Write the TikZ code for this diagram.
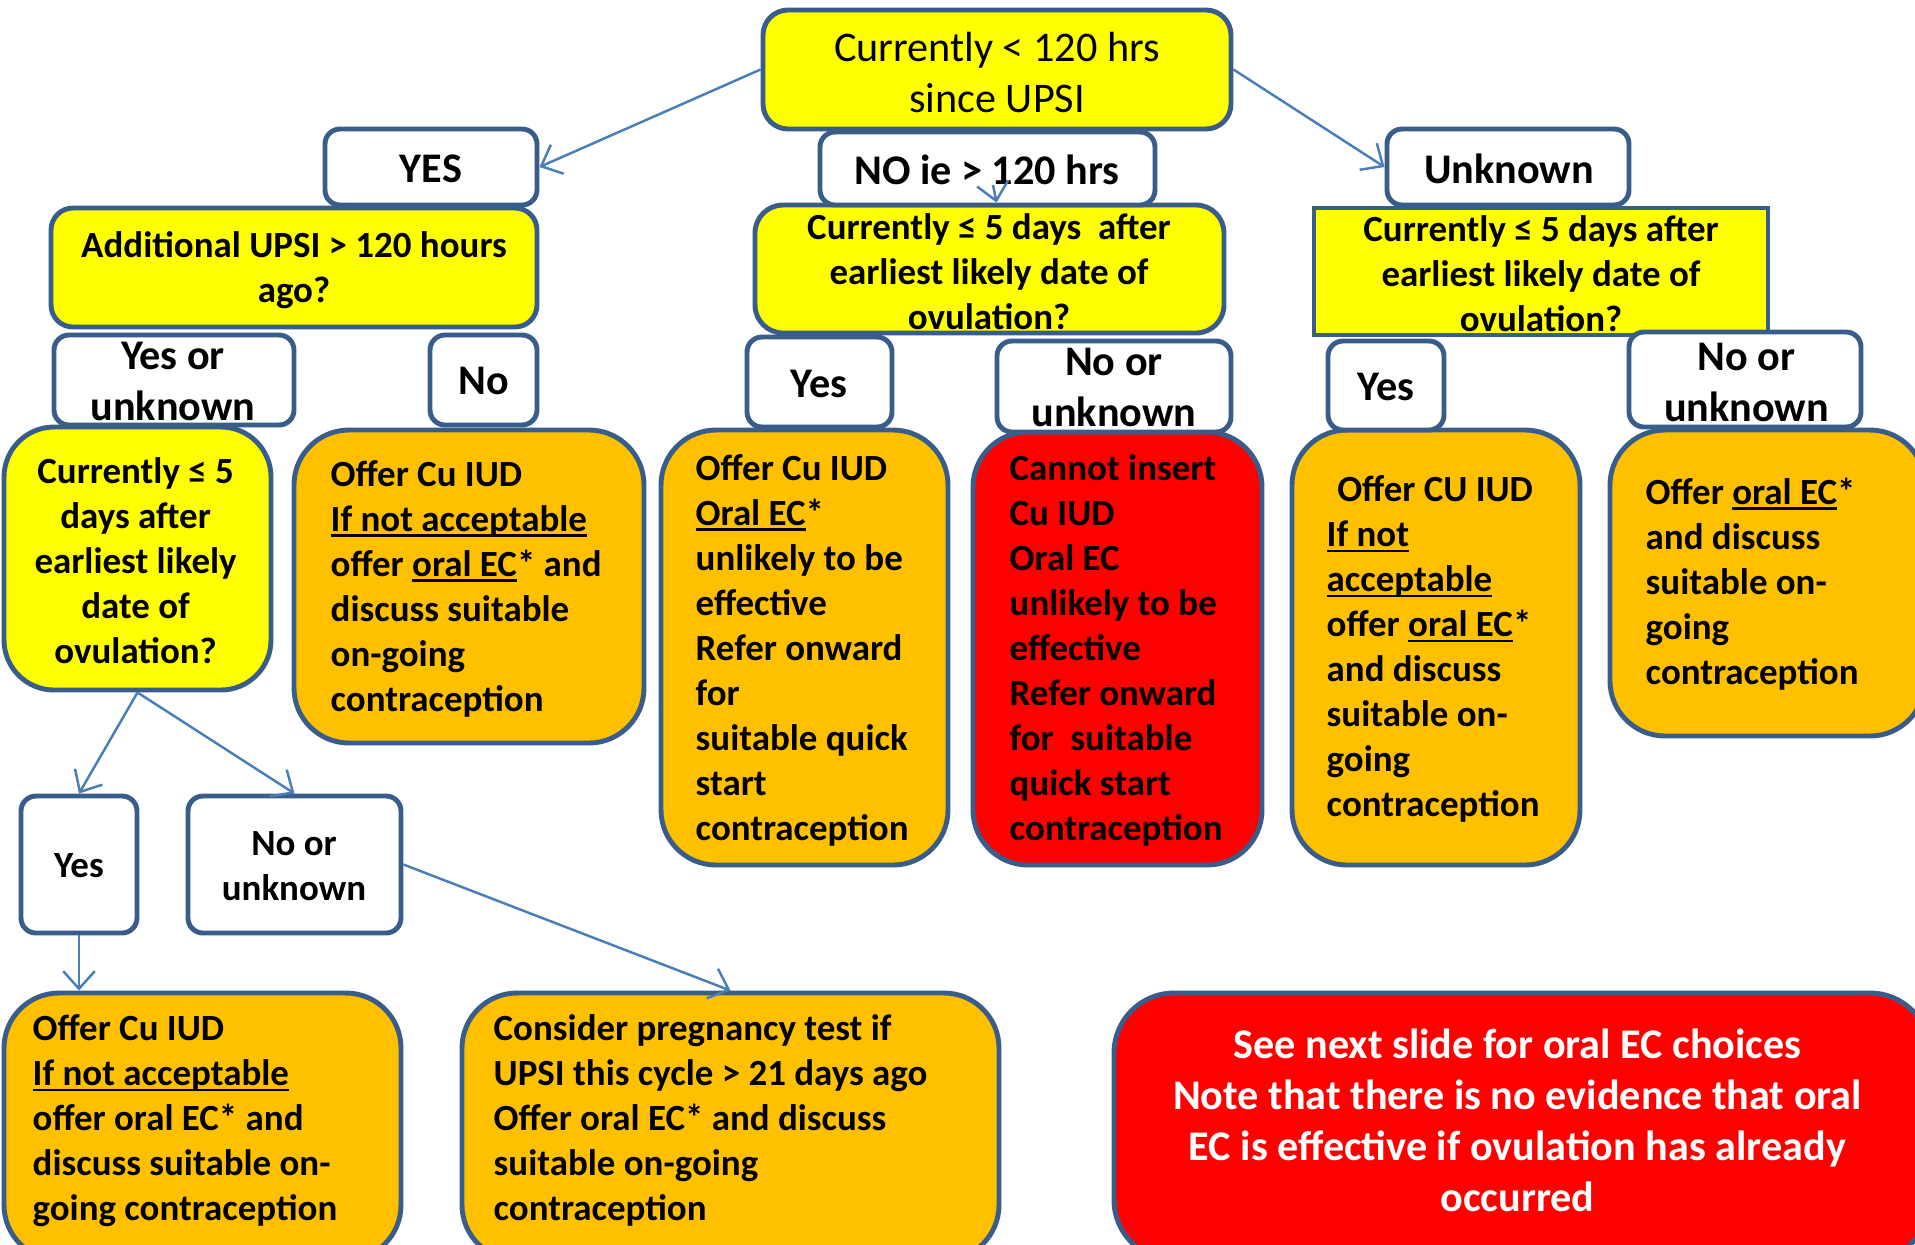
\documentclass[tikz,border=0pt]{standalone}
\usepackage{fontspec}
\setmainfont{Carlito}
\usetikzlibrary{arrows.meta}
\definecolor{bord}{RGB}{56,93,138}
\definecolor{arrc}{RGB}{74,126,187}
\definecolor{yel}{RGB}{255,255,0}
\definecolor{org}{RGB}{255,192,0}
\definecolor{rd}{RGB}{255,0,0}
\newlength\ulen
\newcommand\myul[1]{\settowidth\ulen{#1}\rlap{\rule[-1.6pt]{\ulen}{0.7pt}}#1}
\newcommand\boxat[6]{\node[#6, minimum width={(#4-#2)*0.01cm}, minimum height={(#5-#3)*0.01cm}] (#1) at ({(#2+#4)/2},{(#3+#5)/2}) {};}
\tikzset{
 bx/.style={draw=bord, line width=1.4pt, inner sep=0pt, rectangle},
 yb/.style={bx, fill=yel},
 ob/.style={bx, fill=org, rounded corners=0.55cm},
 rb/.style={bx, fill=rd, rounded corners=0.55cm},
 lb/.style={bx, fill=white, rounded corners=0.15cm},
 tb/.style={inner sep=0pt, font=\bfseries\fontsize{10.5}{12.8}\selectfont, align=left, anchor=west},
 tc/.style={inner sep=0pt, font=\bfseries\fontsize{10.5}{12.8}\selectfont, align=center},
 tl/.style={inner sep=0pt, font=\bfseries\fontsize{12}{14.5}\selectfont, align=center},
 arr/.style={draw=arrc, line width=0.7pt, -{Straight Barb[length=5pt,width=9pt]}}
}
\begin{document}
\begin{tikzpicture}[x=0.01cm,y=-0.01cm]
\useasboundingbox (0,0) rectangle (1915,1244);
% boxes
\boxat{top}{763}{10}{1231}{129}{yb, rounded corners=0.25cm}
\boxat{addq}{51}{208}{537}{327}{yb, rounded corners=0.22cm}
\boxat{midq}{755}{205}{1224}{333}{yb, rounded corners=0.28cm}
\boxat{rq}{1314}{208}{1768}{335}{yb}
\boxat{yes}{325}{129}{537}{205}{lb}
\boxat{noie}{820}{132}{1155}{205}{lb}
\boxat{unk}{1387}{129}{1629}{205}{lb}
\boxat{lq}{4}{427}{271}{690}{yb, rounded corners=0.5cm}
\boxat{o1}{294}{430}{644}{743}{ob}
\boxat{o2}{661}{430}{948}{865}{ob}
\boxat{r1}{973}{432}{1262}{865}{rb}
\boxat{o3}{1292}{430}{1580}{865}{ob}
\boxat{o4}{1610}{430}{1925}{736}{ob}
\boxat{yu}{54}{335}{294}{425}{lb}
\boxat{no1}{430}{335}{537}{425}{lb}
\boxat{yes3}{747}{337}{892}{427}{lb}
\boxat{nu3}{997}{341}{1231}{432}{lb}
\boxat{yes4}{1328}{341}{1444}{430}{lb}
\boxat{nu4}{1629}{332}{1861}{427}{lb}
\boxat{yes2}{21}{796}{137}{933}{lb}
\boxat{nu2}{188}{796}{401}{933}{lb}
\boxat{o5}{4}{993}{401}{1260}{ob}
\boxat{o6}{462}{993}{999}{1260}{ob}
\boxat{r2}{1114}{993}{1930}{1260}{rb, rounded corners=0.6cm}
% texts
\node[tl, font=\fontsize{12}{14.5}\selectfont] (ttop) at (997,72) {Currently < 120 hrs\\since UPSI};
\node[tl] (tyes) at (431,169) {YES};
\node[tl] (tnoie) at (987,170) {NO ie > 120 hrs};
\node[tl] (tunk) at (1509,169) {Unknown};
\node[tc] (taddq) at (294,270.5) {Additional UPSI > 120 hours\\ago?};
\node[tc] (tmidq) at (989,272) {Currently ≤ 5 days\ \ after\\earliest likely date of\\ovulation?};
\node[tc] (trq) at (1541,273.5) {Currently ≤ 5 days after\\earliest likely date of\\ovulation?};
\node[tl] (tyu) at (173,381) {Yes or\\unknown};
\node[tl] (tno1) at (484,381) {No};
\node[tl] (tyes3) at (819,383.5) {Yes};
\node[tl] (tnu3) at (1114,387) {No or\\unknown};
\node[tl] (tyes4) at (1386,387) {Yes};
\node[tl] (tnu4) at (1746.5,382) {No or\\unknown};
\node[tc] (tlq) at (135.6,560.5) {Currently ≤ 5\\days after\\earliest likely\\date of\\ovulation?};
\node[tb] (to1) at (330,588.5) {Offer Cu IUD\\\myul{If not acceptable}\\offer \myul{oral EC}* and\\discuss suitable\\on-going\\contraception};
\node[tb] (to2) at (695,650) {Offer Cu IUD\\\myul{Oral EC}*\\unlikely to be\\effective\\Refer onward\\for\\suitable quick\\start\\contraception};
\node[tb] (tr1) at (1009,650) {Cannot insert\\Cu IUD\\Oral EC\\unlikely to be\\effective\\Refer onward\\for\ \ suitable\\quick start\\contraception};
\node[tb] (to3) at (1326,649) {\hspace{3pt}Offer CU IUD\\\myul{If not}\\\myul{acceptable}\\offer \myul{oral EC}*\\and discuss\\suitable on-\\going\\contraception};
\node[tb] (to4) at (1645,584) {Offer \myul{oral EC}*\\and discuss\\suitable on-\\going\\contraception};
\node[tc] (tyes2) at (79,866) {Yes};
\node[tc] (tnu2) at (294,866.5) {No or\\unknown};
\node[tb] (to5) at (32,1120.5) {Offer Cu IUD\\\myul{If not acceptable}\\offer oral EC* and\\discuss suitable on-\\going contraception};
\node[tb] (to6) at (493,1120.5) {Consider pregnancy test if\\UPSI this cycle > 21 days ago\\Offer oral EC* and discuss\\suitable on-going\\contraception};
\node[tl, text=white] (tr2) at (1517.5,1120) {See next slide for oral EC choices\\Note that there is no evidence that oral\\EC is effective if ovulation has already\\occurred};
% connectors
\draw[arr] (top.west) -- (yes.east);
\draw[arr] (top.east) -- (unk.west);
\coordinate (nos) at (993,185);
\draw[arr] (nos) -- ([xshift=0.07cm]midq.north);
\draw[arr] (lq.south) -- (yes2.north);
\draw[arr] (lq.south) -- (nu2.north);
\draw[arr] (yes2.south) -- (yes2.south |- o5.north);
\draw[arr] (nu2.east) -- (o6.north);
\end{tikzpicture}
\end{document}
